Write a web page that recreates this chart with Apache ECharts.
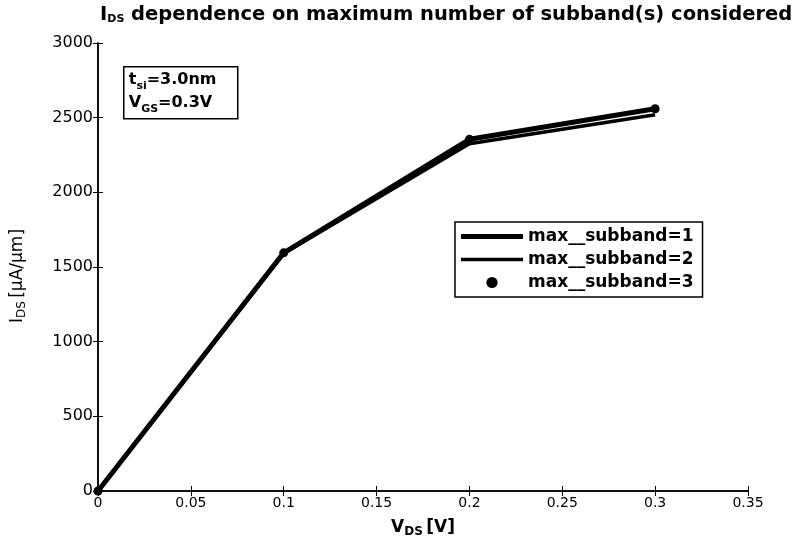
<!DOCTYPE html>
<html>
<head>
<meta charset="utf-8">
<script src="https://cdn.jsdelivr.net/npm/echarts@6/dist/echarts.min.js"></script>
<style>
  html, body { margin: 0; padding: 0; background: #fff; }
  #chart { width: 793px; height: 543px; }
</style>
</head>
<body>
<div id="chart"></div>
<script>
// V_DS sweep points [V]
const vds = [0, 0.1, 0.2, 0.3]
// I_DS [uA/um] for each max subband setting
const idsSub1 = [0, 1595, 2355, 2560]
const idsSub2 = [0, 1590, 2325, 2520]
const idsSub3 = [0, 1595, 2355, 2560]
const seriesNames = ['max__subband=1', 'max__subband=2', 'max__subband=3']

const FONT = 'DejaVu Sans'
const pair = (xs, ys) => xs.map((x, i) => [x, ys[i]])

const chart = echarts.init(document.getElementById('chart'))

// mirror axes on top / right, ticks only (matlab style box)
const mirrorAxis = {
  axisLine: { show: true, lineStyle: { color: '#000', width: 1.5 } },
  axisTick: { show: true, inside: true, length: 5, lineStyle: { color: '#000' } },
  axisLabel: { show: false },
  splitLine: { show: false }
}

const option = {
  backgroundColor: '#fff',
  animation: false,
  title: {
    left: 95,
    top: 0,
    text: '{i|I}{s|DS} dependence on maximum number of subband(s) considered',
    textStyle: {
      rich: {
        i: { fontFamily: FONT, fontWeight: 'bold', fontSize: 19.5, color: '#000' },
        s: { fontFamily: FONT, fontWeight: 'bold', fontSize: 11, color: '#000', verticalAlign: 'bottom', padding: [9, 0, 0, 0] }
      },
      fontFamily: FONT,
      fontWeight: 'bold',
      fontSize: 19.5,
      color: '#000'
    }
  },
  grid: { left: 98, right: 45, top: 43, bottom: 51 },
  legend: {
    orient: 'vertical',
    left: 455,
    top: 222,
    data: [
      { name: seriesNames[0], icon: 'path://M0,0h62v5h-62z' },
      { name: seriesNames[1], icon: 'path://M0,0h62v3.5h-62z' },
      { name: seriesNames[2] }
    ],
    itemWidth: 62,
    itemHeight: 14,
    itemGap: 6,
    padding: [6, 9, 6, 6],
    borderColor: '#000',
    borderWidth: 1.5,
    backgroundColor: '#fff',
    textStyle: { fontFamily: FONT, fontWeight: 'bold', fontSize: 17, lineHeight: 15, color: '#000' }
  },
  xAxis: [{
    type: 'value',
    min: 0,
    max: 0.35,
    interval: 0.05,
    name: '{v|V}{s|DS} {v|[V]}',
    nameLocation: 'middle',
    nameGap: 26,
    nameTextStyle: {
      rich: {
        v: { fontFamily: FONT, fontWeight: 'bold', fontSize: 17, color: '#000' },
        s: { fontFamily: FONT, fontWeight: 'bold', fontSize: 12, color: '#000', verticalAlign: 'bottom', padding: [9, 0, 0, 0] }
      }
    },
    axisLine: { show: true, lineStyle: { color: '#000', width: 1.5 } },
    axisTick: { show: true, inside: true, length: 5, lineStyle: { color: '#000' } },
    axisLabel: { fontFamily: FONT, fontSize: 14, color: '#000', margin: 5 },
    splitLine: { show: false }
  }, Object.assign({
    type: 'value', position: 'top', min: 0, max: 0.35, interval: 0.05
  }, mirrorAxis)],
  yAxis: [{
    type: 'value',
    min: 0,
    max: 3000,
    interval: 500,
    name: '{v|I}{s|DS} {v|[µA/µm]}',
    nameLocation: 'middle',
    nameGap: 70,
    nameTextStyle: {
      padding: [0, 18, 0, 0],
      rich: {
        v: { fontFamily: FONT, fontSize: 17, color: '#000' },
        s: { fontFamily: FONT, fontSize: 12, color: '#000', verticalAlign: 'bottom', padding: [9, 0, 0, 0] }
      }
    },
    axisLine: { show: true, lineStyle: { color: '#000', width: 1.5 } },
    axisTick: { show: true, inside: true, length: 5, lineStyle: { color: '#000' } },
    axisLabel: { fontFamily: FONT, fontSize: 16, color: '#000', margin: 5, formatter: v => String(v) },
    splitLine: { show: false }
  }, Object.assign({
    type: 'value', position: 'right', min: 0, max: 3000, interval: 500
  }, mirrorAxis)],
  series: [
    {
      name: seriesNames[0],
      type: 'line',
      data: pair(vds, idsSub1),
      symbol: 'none',
      lineStyle: { color: '#000', width: 5 },
      itemStyle: { color: '#000' },
      z: 2
    },
    {
      name: seriesNames[1],
      type: 'line',
      data: pair(vds, idsSub2),
      symbol: 'none',
      lineStyle: { color: '#000', width: 3.5 },
      itemStyle: { color: '#000' },
      z: 3
    },
    {
      name: seriesNames[2],
      type: 'line',
      data: pair(vds, idsSub3),
      symbol: 'circle',
      symbolSize: 9,
      showSymbol: true,
      lineStyle: { color: '#000', width: 0 },
      itemStyle: { color: '#000' },
      z: 4
    }
  ],
  graphic: [{
    type: 'group',
    left: 123,
    top: 66,
    children: [
      {
        type: 'rect',
        shape: { x: 0, y: 0, width: 114, height: 52 },
        style: { fill: '#fff', stroke: '#000', lineWidth: 1.5 }
      },
      {
        type: 'text',
        x: 5,
        y: 2,
        style: {
          text: '{v|t}{s|si}{v|=3.0nm}\n{v|V}{s|GS}{v|=0.3V}',
          rich: {
            v: { fontFamily: FONT, fontWeight: 'bold', fontSize: 16, fill: '#000', lineHeight: 23 },
            s: { fontFamily: FONT, fontWeight: 'bold', fontSize: 11, fill: '#000', verticalAlign: 'bottom', padding: [8, 0, 0, 0], lineHeight: 23 }
          }
        }
      }
    ]
  }]
}

chart.setOption(option)
</script>
</body>
</html>
